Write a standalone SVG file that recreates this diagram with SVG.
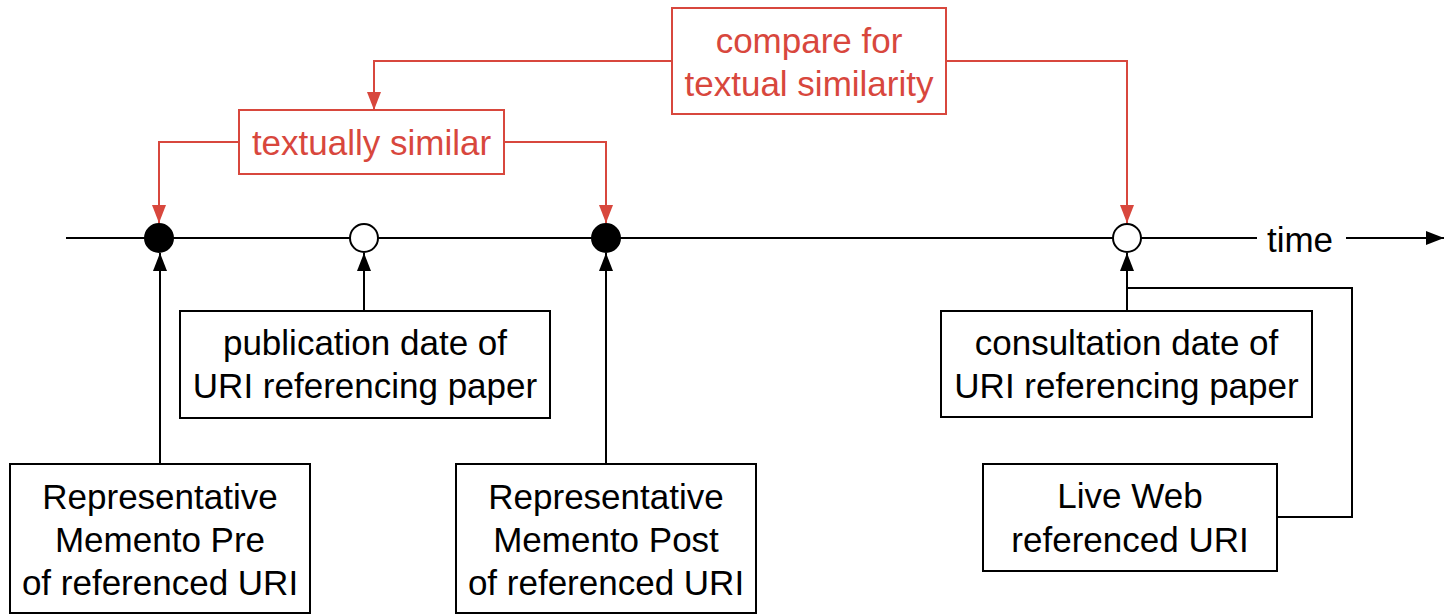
<svg xmlns="http://www.w3.org/2000/svg" width="1455" height="615" viewBox="0 0 1455 615">
<defs>
<marker id="ab" markerUnits="userSpaceOnUse" markerWidth="20" markerHeight="14" refX="18" refY="7" orient="auto">
<path d="M0,0 L18,7 L0,14 Z" fill="#000"/>
</marker>
<marker id="ar" markerUnits="userSpaceOnUse" markerWidth="20" markerHeight="14" refX="18" refY="7" orient="auto">
<path d="M0,0 L18,7 L0,14 Z" fill="#d8473d"/>
</marker>
<style>
.box{fill:#fff;stroke:#000;stroke-width:2}
.rbox{fill:#fff;stroke:#d8473d;stroke-width:2}
.t{font-family:"Liberation Sans",Arial,Helvetica,sans-serif;font-size:35px;fill:#000;text-anchor:middle}
.rt{font-family:"Liberation Sans",Arial,Helvetica,sans-serif;font-size:35px;fill:#d8473d;text-anchor:middle}
.bl{fill:none;stroke:#000;stroke-width:2}
.rl{fill:none;stroke:#d8473d;stroke-width:2}
</style>
</defs>
<rect width="1455" height="615" fill="#fff"/>
<g id="connectors">
<line class="bl" x1="66" y1="238" x2="1257" y2="238"/>
<line class="bl" x1="1346" y1="238" x2="1444" y2="238" marker-end="url(#ab)"/>
<path class="rl" d="M672,61 H374 V110" marker-end="url(#ar)"/>
<path class="rl" d="M946,61 H1127 V223" marker-end="url(#ar)"/>
<path class="rl" d="M239,142 H159 V223" marker-end="url(#ar)"/>
<path class="rl" d="M504,142 H606 V223" marker-end="url(#ar)"/>
<path class="bl" d="M160,464 V253" marker-end="url(#ab)"/>
<path class="bl" d="M364,311 V253" marker-end="url(#ab)"/>
<path class="bl" d="M606,464 V253" marker-end="url(#ab)"/>
<path class="bl" d="M1127,311 V253" marker-end="url(#ab)"/>
<path class="bl" d="M1277,517 H1352 V288 H1127"/>
</g>
<g id="time-label"><text class="t" x="1300" y="252">time</text></g>
<g id="event-pre"><circle cx="159" cy="238" r="14" fill="#000" stroke="#000" stroke-width="2"/></g>
<g id="event-pub"><circle cx="364" cy="238" r="14" fill="#fff" stroke="#000" stroke-width="2"/></g>
<g id="event-post"><circle cx="606" cy="238" r="14" fill="#000" stroke="#000" stroke-width="2"/></g>
<g id="event-consult"><circle cx="1127" cy="238" r="14" fill="#fff" stroke="#000" stroke-width="2"/></g>
<g id="compare">
<rect class="rbox" x="672" y="8" width="274" height="106"/>
<text class="rt" x="809" y="53">compare for</text>
<text class="rt" x="809" y="96">textual similarity</text>
</g>
<g id="similar">
<rect class="rbox" x="239" y="110" width="265" height="64"/>
<text class="rt" x="371.5" y="155">textually similar</text>
</g>
<g id="publication">
<rect class="box" x="180" y="311" width="370" height="107"/>
<text class="t" x="365" y="355">publication date of</text>
<text class="t" x="365" y="398">URI referencing paper</text>
</g>
<g id="consultation">
<rect class="box" x="941" y="311" width="371" height="106"/>
<text class="t" x="1126.5" y="355">consultation date of</text>
<text class="t" x="1126.5" y="398">URI referencing paper</text>
</g>
<g id="memento-pre">
<rect class="box" x="10" y="464" width="300" height="149"/>
<text class="t" x="160" y="509">Representative</text>
<text class="t" x="160" y="552">Memento Pre</text>
<text class="t" x="160" y="595">of referenced URI</text>
</g>
<g id="memento-post">
<rect class="box" x="456" y="464" width="300" height="149"/>
<text class="t" x="606" y="509">Representative</text>
<text class="t" x="606" y="552">Memento Post</text>
<text class="t" x="606" y="595">of referenced URI</text>
</g>
<g id="live-web">
<rect class="box" x="983" y="464" width="294" height="107"/>
<text class="t" x="1130" y="508">Live Web</text>
<text class="t" x="1130" y="552">referenced URI</text>
</g>
</svg>
